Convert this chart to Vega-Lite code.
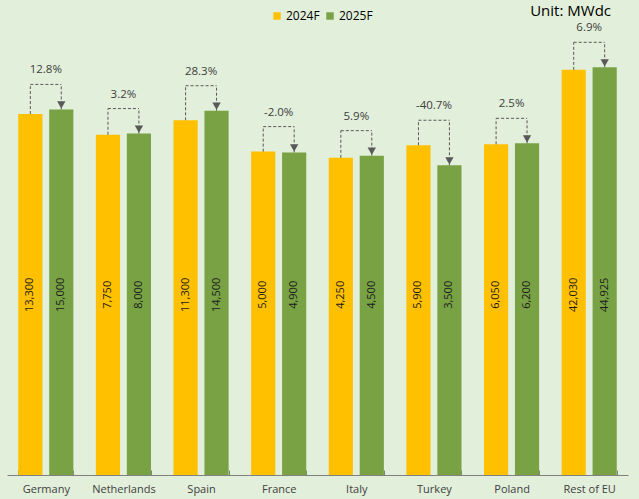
{
  "$schema": "https://vega.github.io/schema/vega-lite/v6.json",
  "autosize": "none",
  "width": 621,
  "height": 470,
  "padding": {"left": 7, "top": 5, "right": 11, "bottom": 24},
  "background": "#E2EFDA",
  "config": {
    "view": {"stroke": null},
    "font": "Open Sans"
  },
  "title": {"text": "Unit: MWdc", "anchor": "end", "orient": "top", "frame": "group", "offset": -14, "dx": -17, "fontSize": 15, "fontWeight": "normal", "color": "#000000", "font": "Open Sans"},
  "datasets": {
    "bars": [
      {"country": "Germany", "series": "2024F", "value": 13300},
      {"country": "Germany", "series": "2025F", "value": 15000},
      {"country": "Netherlands", "series": "2024F", "value": 7750},
      {"country": "Netherlands", "series": "2025F", "value": 8000},
      {"country": "Spain", "series": "2024F", "value": 11300},
      {"country": "Spain", "series": "2025F", "value": 14500},
      {"country": "France", "series": "2024F", "value": 5000},
      {"country": "France", "series": "2025F", "value": 4900},
      {"country": "Italy", "series": "2024F", "value": 4250},
      {"country": "Italy", "series": "2025F", "value": 4500},
      {"country": "Turkey", "series": "2024F", "value": 5900},
      {"country": "Turkey", "series": "2025F", "value": 3500},
      {"country": "Poland", "series": "2024F", "value": 6050},
      {"country": "Poland", "series": "2025F", "value": 6200},
      {"country": "Rest of EU", "series": "2024F", "value": 42030},
      {"country": "Rest of EU", "series": "2025F", "value": 44925}
    ],
    "changes": [
      {"country": "Germany", "pct": "12.8%"},
      {"country": "Netherlands", "pct": "3.2%"},
      {"country": "Spain", "pct": "28.3%"},
      {"country": "France", "pct": "-2.0%"},
      {"country": "Italy", "pct": "5.9%"},
      {"country": "Turkey", "pct": "-40.7%"},
      {"country": "Poland", "pct": "2.5%"},
      {"country": "Rest of EU", "pct": "6.9%"}
    ]
  },
  "data": {"name": "bars"},
  "encoding": {
    "x": {
      "field": "country", "type": "nominal", "sort": null,
      "scale": {"paddingInner": 0.29, "paddingOuter": 0.145},
      "axis": {"title": null, "labelAngle": 0, "labelFontSize": 11, "labelColor": "#404040", "labelPadding": 13, "domainColor": "#808080", "tickColor": "#808080", "tickSize": -5, "tickBand": "extent", "labelFont": "Open Sans"}
    }
  },
  "layer": [
    {
      "mark": {"type": "bar"},
      "encoding": {
        "xOffset": {"field": "series", "type": "nominal", "scale": {"paddingInner": 0.22, "paddingOuter": 0}},
        "y": {"field": "value", "type": "quantitative", "scale": {"type": "log", "domain": [1.1, 227500], "nice": false}, "axis": null},
        "y2": {"datum": 1.1},
        "color": {
          "field": "series", "type": "nominal",
          "scale": {"domain": ["2024F", "2025F"], "range": ["#FFC000", "#78A244"]},
          "legend": {"title": null, "orient": "none", "legendX": 264, "legendY": 5, "direction": "horizontal", "symbolType": "square", "symbolSize": 55, "symbolStrokeWidth": 0, "labelFontSize": 12, "labelColor": "#000000", "columnPadding": 4, "labelOffset": 3, "symbolOpacity": 1, "labelFont": "Open Sans"}
        }
      }
    },
    {
      "mark": {"type": "text", "angle": 270, "fontSize": 11, "color": "#1a1a1a", "baseline": "middle", "align": "center"},
      "encoding": {
        "xOffset": {"field": "series", "type": "nominal", "scale": {"paddingInner": 0.22, "paddingOuter": 0}},
        "y": {"datum": 120, "type": "quantitative"},
        "text": {"field": "value", "type": "quantitative", "format": ","}
      }
    },
    {
      "transform": [{"joinaggregate": [{"op": "max", "field": "value", "as": "top"}], "groupby": ["country"]}],
      "layer": [
        {
          "mark": {"type": "rule", "strokeDash": [3, 2], "color": "#595959", "strokeWidth": 1, "y2Offset": -25},
          "encoding": {
            "xOffset": {"field": "series", "type": "nominal", "scale": {"paddingInner": 0.22, "paddingOuter": 0}},
            "y": {"field": "value", "type": "quantitative"},
            "y2": {"field": "top"}
          }
        },
        {
          "transform": [{"filter": "datum.series == '2024F'"}],
          "mark": {"type": "rule", "strokeDash": [3, 2], "color": "#595959", "strokeWidth": 1, "yOffset": -25, "xOffset": -15.5, "x2Offset": 15.5},
          "encoding": {
            "x2": {"field": "country"},
            "y": {"field": "top", "type": "quantitative"}
          }
        },
        {
          "transform": [{"filter": "datum.series == '2025F'"}],
          "mark": {"type": "point", "shape": "triangle-down", "filled": true, "color": "#595959", "opacity": 1, "size": 70, "yOffset": -4.5},
          "encoding": {
            "xOffset": {"field": "series", "type": "nominal", "scale": {"paddingInner": 0.22, "paddingOuter": 0}},
            "y": {"field": "value", "type": "quantitative"}
          }
        },
        {
          "transform": [
            {"filter": "datum.series == '2025F'"},
            {"lookup": "country", "from": {"data": {"name": "changes"}, "key": "country", "fields": ["pct"]}}
          ],
          "mark": {"type": "text", "fontSize": 11.5, "color": "#404040", "yOffset": -39, "baseline": "middle"},
          "encoding": {
            "y": {"field": "top", "type": "quantitative"},
            "text": {"field": "pct", "type": "nominal"}
          }
        }
      ]
    }
  ]
}
